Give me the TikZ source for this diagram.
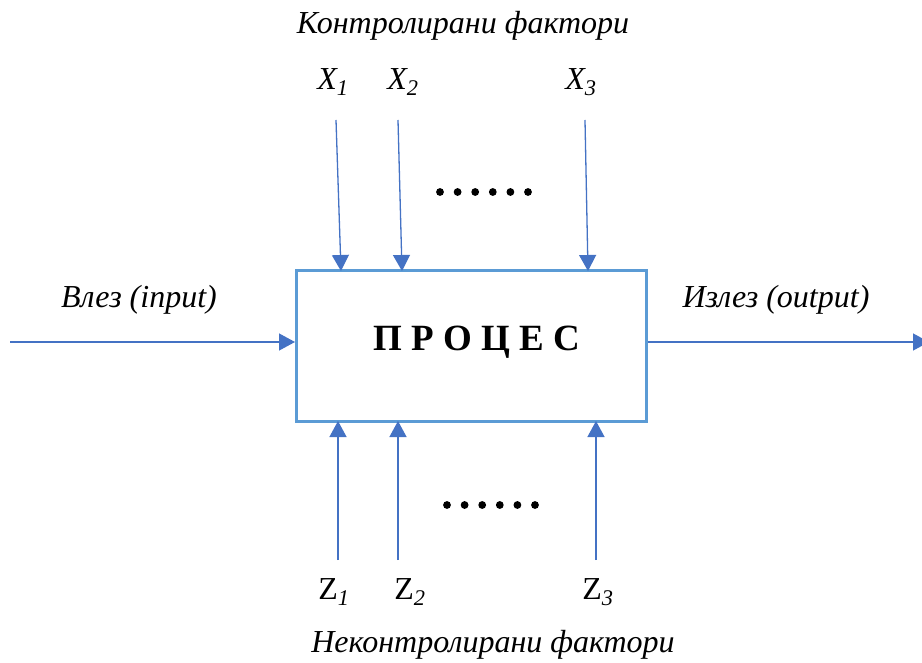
\documentclass[tikz,border=0pt]{standalone}
\usepackage{fontspec}
\setmainfont{Liberation Serif}
\usetikzlibrary{arrows.meta}
\definecolor{arrblue}{RGB}{68,114,196}
\definecolor{boxblue}{RGB}{91,155,213}
\begin{document}
\begin{tikzpicture}[x=1pt,y=-1pt,
  lbl/.style={font=\fontsize{32}{36}\selectfont\itshape, inner sep=0pt},
  var/.style={font=\fontsize{32}{36}\selectfont, inner sep=0pt},
  arr/.style={draw=arrblue, line width=1.3pt, -{Triangle[width=17pt,length=16pt]}},
  dot/.style={fill=black, circle, inner sep=0pt, minimum size=7.8pt}]
\useasboundingbox (0,0) rectangle (922,663);
% box
\node[draw=boxblue, line width=3pt, minimum width=350pt, minimum height=150pt, inner sep=0pt] (proc) at (471.5,346) {};
\node[inner sep=0pt, font=\fontsize{37}{40}\selectfont\bfseries] (title) at (477,342) {П Р О Ц Е С};
% top
\node[lbl] (ctl) at (463,26) {Контролирани фактори};
\node[var] (x1) at (333,82) {\itshape X\textsubscript{1}};
\node[var] (x2) at (403,82) {\itshape X\textsubscript{2}};
\node[var] (x3) at (581,82) {\itshape X\textsubscript{3}};
\coordinate (x1s) at (336,120);
\coordinate (x2s) at (398,120);
\coordinate (x3s) at (585,120);
\coordinate (x1e) at (341,271);
\coordinate (x2e) at (402,271);
\coordinate (x3e) at (588,271);
\draw[arr] (x1s) -- (x1e);
\draw[arr] (x2s) -- (x2e);
\draw[arr] (x3s) -- (x3e);
\foreach \i in {0,...,5}{\node[dot] (td\i) at ({440+17.6*\i},192) {};}
% bottom
\coordinate (z1s) at (338,560);
\coordinate (z2s) at (398,560);
\coordinate (z3s) at (596,560);
\coordinate (z1e) at (338,421);
\coordinate (z2e) at (398,421);
\coordinate (z3e) at (596,421);
\draw[arr] (z1s) -- (z1e);
\draw[arr] (z2s) -- (z2e);
\draw[arr] (z3s) -- (z3e);
\foreach \i in {0,...,5}{\node[dot] (bd\i) at ({447+17.6*\i},505) {};}
\node[var] (z1) at (334,592) {Z\textsubscript{\itshape 1}};
\node[var] (z2) at (410,592) {Z\textsubscript{\itshape 2}};
\node[var] (z3) at (598,592) {Z\textsubscript{\itshape 3}};
\node[lbl] (unc) at (493,645) {Неконтролирани фактори};
% input / output
\coordinate (ins) at (10,342);
\coordinate (oute) at (929,342);
\draw[arr] (ins) -- (proc.west |- ins);
\draw[arr] (proc.east |- oute) -- (oute);
\node[lbl] (inl) at (139,300) {Влез (input)};
\node[lbl] (outl) at (776,300) {Излез (output)};
\end{tikzpicture}
\end{document}
